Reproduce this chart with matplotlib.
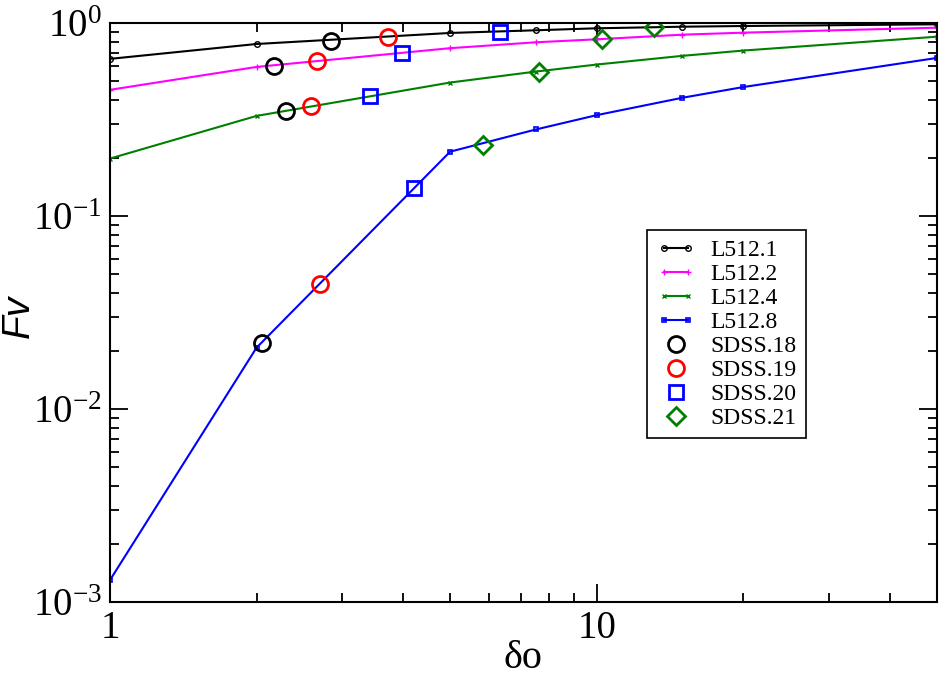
import numpy as np
import matplotlib
matplotlib.use("Agg")
import matplotlib.pyplot as plt
from matplotlib.ticker import FixedLocator, FixedFormatter, LogLocator, NullFormatter
from matplotlib.legend_handler import HandlerLine2D

plt.rcParams["font.family"] = ["Liberation Serif", "DejaVu Serif"]
plt.rcParams["mathtext.fontset"] = "custom"
plt.rcParams["mathtext.rm"] = "Liberation Serif"
plt.rcParams["mathtext.it"] = "Liberation Serif:italic"

# model curves
delta = [1, 2, 5, 7.5, 10, 15, 20, 50]
fv_1 = [0.654, 0.781, 0.891, 0.920, 0.942, 0.960, 0.968, 0.988]
fv_2 = [0.452, 0.594, 0.743, 0.797, 0.826, 0.873, 0.894, 0.949]
fv_4 = [0.199, 0.331, 0.493, 0.562, 0.611, 0.678, 0.722, 0.852]
fv_8 = [0.00130, 0.0208, 0.216, 0.2815, 0.334, 0.411, 0.467, 0.661]

# SDSS points
sdss18_x = [2.175, 2.298, 2.852, 2.052]
sdss18_y = [0.601, 0.352, 0.813, 0.0221]
sdss19_x = [2.657, 2.586, 3.723, 2.699]
sdss19_y = [0.636, 0.372, 0.852, 0.0447]
sdss20_x = [6.32, 3.99, 3.43, 4.21]
sdss20_y = [0.898, 0.705, 0.419, 0.1394]
sdss21_x = [7.61, 5.83, 10.27, 13.15]
sdss21_y = [0.560, 0.2338, 0.832, 0.960]

fig = plt.figure(figsize=(9.42, 6.79), dpi=100)
ax = fig.add_axes([0.1168, 0.1134, 0.8776, 0.8523])

lw = 1.5
l1, = ax.plot(delta, fv_1, color="black", lw=lw, marker="o", ms=4, mfc="none", mew=1.0, label="L512.1")
l2, = ax.plot(delta, fv_2, color="magenta", lw=lw, marker="+", ms=5, mew=1.0, label="L512.2")
l4, = ax.plot(delta, fv_4, color="green", lw=lw, marker="x", ms=3.5, mew=1.0, label="L512.4")
l8, = ax.plot(delta, fv_8, color="blue", lw=lw, marker="s", ms=3, mfc="none", mew=1.2, label="L512.8")

ax.plot(sdss18_x, sdss18_y, ls="none", marker="o", ms=11.5, mfc="none", mec="black", mew=2.0, label="SDSS.18")
ax.plot(sdss19_x, sdss19_y, ls="none", marker="o", ms=11.5, mfc="none", mec="red", mew=2.0, label="SDSS.19")
ax.plot(sdss20_x, sdss20_y, ls="none", marker="s", ms=10.5, mfc="none", mec="blue", mew=2.0, label="SDSS.20")
ax.plot(sdss21_x, sdss21_y, ls="none", marker="D", ms=9, mfc="none", mec="green", mew=2.0, label="SDSS.21")

ax.set_xscale("log")
ax.set_yscale("log")
ax.set_xlim(1, 50)
ax.set_ylim(1e-3, 1)

ax.xaxis.set_major_locator(FixedLocator([1, 10]))
ax.xaxis.set_major_formatter(FixedFormatter(["1", "10"]))
ax.xaxis.set_minor_locator(LogLocator(base=10, subs=np.arange(2, 10)))
ax.xaxis.set_minor_formatter(NullFormatter())

ax.yaxis.set_major_locator(FixedLocator([1e-3, 1e-2, 1e-1, 1]))
ax.yaxis.set_major_formatter(FixedFormatter([r"$\mathregular{10^{-3}}$", r"$\mathregular{10^{-2}}$",
                                             r"$\mathregular{10^{-1}}$", r"$\mathregular{10^{0}}$"]))
ax.yaxis.set_minor_locator(LogLocator(base=10, subs=np.arange(2, 10)))
ax.yaxis.set_minor_formatter(NullFormatter())

ax.tick_params(which="both", direction="in", top=True, right=True, width=1.3)
ax.tick_params(which="major", length=13, labelsize=28, pad=6)
ax.tick_params(which="minor", length=6.5)
for sp in ax.spines.values():
    sp.set_linewidth(1.5)

ax.set_xlabel("\u03b4o", fontsize=29)
ax.xaxis.set_label_coords(0.5, -0.066)
ax.set_ylabel("Fv", fontsize=28, family=["Liberation Sans"], style="italic")
ax.yaxis.set_label_coords(-0.088, 0.494)

two_ends = HandlerLine2D(numpoints=2)
leg = ax.legend(loc="upper left", bbox_to_anchor=(0.65, 0.643), fontsize=17,
                frameon=True, fancybox=False, framealpha=1, edgecolor="black",
                handlelength=1.6, labelspacing=0.105, borderpad=0.4, handletextpad=0.68,
                borderaxespad=0,
                handler_map={l1: two_ends, l2: two_ends, l4: two_ends, l8: two_ends})
leg.get_frame().set_linewidth(1.2)

fig.savefig("out.png", dpi=100)
